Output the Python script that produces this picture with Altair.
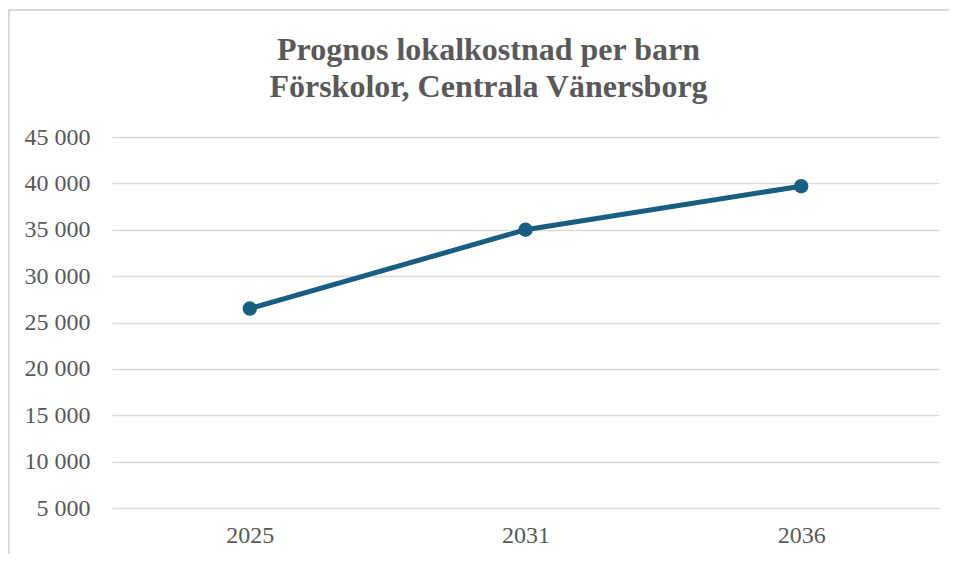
import altair as alt
import pandas as pd

years = ["2025", "2031", "2036"]
cost = [26500, 35000, 39700]
y_ticks = [5000, 10000, 15000, 20000, 25000, 30000, 35000, 40000, 45000]
title_lines = ["Prognos lokalkostnad per barn", "Förskolor, Centrala Vänersborg"]

df = pd.DataFrame({"year": years, "cost": cost})

W, H = 827, 371
PL, PT, PR, PB = 104, 129, 10, 46

FONT = "Liberation Serif"
GREY = "#595959"
LINE = "#185E80"

x_enc = alt.X("year:O", scale=alt.Scale(type="point", padding=0.5),
              axis=alt.Axis(title=None, labelAngle=0, domain=False, ticks=False, tickSize=0,
                            labelPadding=15, labelFontSize=24, labelFont=FONT, labelColor=GREY,
                            grid=False))
y_enc = alt.Y("cost:Q", scale=alt.Scale(domain=[5000, 45000], nice=False, zero=False),
              axis=alt.Axis(title=None, values=y_ticks, domain=False, ticks=False, tickSize=0,
                            labelPadding=22, labelFontSize=24, labelFont=FONT, labelColor=GREY,
                            gridColor="#d9d9d9", gridWidth=1.5,
                            labelExpr="replace(format(datum.value, ',d'), ',', ' ')"))

line = alt.Chart(df).mark_line(color=LINE, strokeWidth=5).encode(x=x_enc, y=y_enc)
pts = alt.Chart(df).mark_point(color=LINE, filled=True, opacity=1, size=210).encode(x="year:O", y="cost:Q")

border_left = alt.Chart(df).mark_rule(color="#d9d9d9", strokeWidth=2).encode(
    x=alt.value(-PL + 0.5), x2=alt.value(-PL + 0.5), y=alt.value(-PT + 1), y2=alt.value(H + PB + 10))
border_top = alt.Chart(df).mark_rule(color="#d9d9d9", strokeWidth=2).encode(
    x=alt.value(-PL), x2=alt.value(W + PR + 20), y=alt.value(-PT + 2), y2=alt.value(-PT + 2))

chart = alt.layer(border_left, border_top, line, pts).properties(
    width=W, height=H,
    autosize=alt.AutoSizeParams(type="none"),
    padding={"left": PL, "top": PT, "right": PR, "bottom": PB},
    title=alt.TitleParams(text=title_lines, font=FONT, fontSize=32, fontWeight="bold",
                          color=GREY, lineHeight=37, anchor="middle", dx=-37, offset=-96),
).configure_view(stroke=None)

chart.save("out.html", embed_options={"renderer": "svg", "actions": False})
